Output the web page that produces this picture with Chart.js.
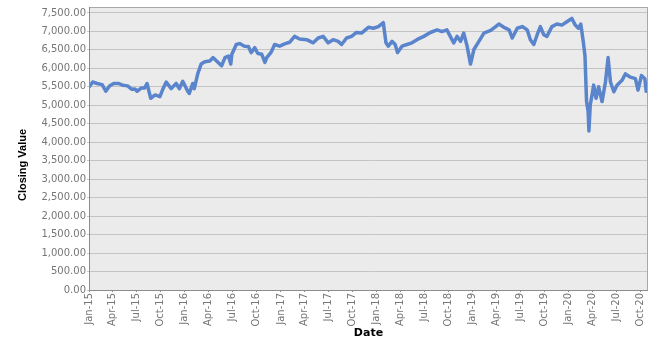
<!DOCTYPE html>
<html>
<head>
<meta charset="utf-8">
<script src="https://cdn.jsdelivr.net/npm/chart.js@4/dist/chart.umd.min.js"></script>
<style>
  html, body { margin: 0; padding: 0; background: #fff; }
  canvas { display: block; }
</style>
</head>
<body>
<canvas id="closeChart" width="665" height="352"></canvas>
<script>
const dates = [
  '2015-01-02', '2015-01-15', '2015-02-01', '2015-02-20', '2015-03-06', '2015-03-20', '2015-04-05', '2015-04-25',
  '2015-05-10', '2015-05-28', '2015-06-12', '2015-06-25', '2015-07-03', '2015-07-20', '2015-08-01', '2015-08-10',
  '2015-08-24', '2015-09-10', '2015-09-28', '2015-10-10', '2015-10-22', '2015-11-10', '2015-11-29', '2015-12-11',
  '2015-12-24', '2016-01-12', '2016-01-18', '2016-01-31', '2016-02-06', '2016-02-19', '2016-03-03', '2016-03-17',
  '2016-04-05', '2016-04-17', '2016-05-01', '2016-05-20', '2016-06-02', '2016-06-15', '2016-06-24', '2016-06-28',
  '2016-07-15', '2016-07-28', '2016-08-15', '2016-08-30', '2016-09-10', '2016-09-23', '2016-10-05', '2016-10-20',
  '2016-11-01', '2016-11-08', '2016-11-25', '2016-12-08', '2016-12-27', '2017-01-15', '2017-02-03', '2017-02-22',
  '2017-03-13', '2017-04-09', '2017-05-04', '2017-05-23', '2017-06-11', '2017-06-30', '2017-07-19', '2017-08-07',
  '2017-08-20', '2017-09-08', '2017-09-27', '2017-10-16', '2017-11-04', '2017-11-30', '2017-12-19', '2018-01-07',
  '2018-01-26', '2018-02-05', '2018-02-14', '2018-02-28', '2018-03-12', '2018-03-21', '2018-04-07', '2018-04-26',
  '2018-05-15', '2018-06-03', '2018-06-29', '2018-07-24', '2018-08-19', '2018-09-06', '2018-09-25', '2018-10-08',
  '2018-10-21', '2018-11-03', '2018-11-16', '2018-11-28', '2018-12-11', '2018-12-24', '2019-01-06', '2019-01-25',
  '2019-02-13', '2019-03-11', '2019-03-30', '2019-04-11', '2019-04-30', '2019-05-20', '2019-06-01', '2019-06-20',
  '2019-07-09', '2019-07-28', '2019-08-09', '2019-08-22', '2019-09-04', '2019-09-16', '2019-09-29', '2019-10-11',
  '2019-10-30', '2019-11-18', '2019-12-07', '2019-12-26', '2020-01-14', '2020-01-27', '2020-02-08', '2020-02-17',
  '2020-02-27', '2020-03-04', '2020-03-10', '2020-03-16', '2020-03-19', '2020-03-24', '2020-03-31', '2020-04-06',
  '2020-04-15', '2020-04-25', '2020-05-08', '2020-05-21', '2020-05-31', '2020-06-09', '2020-06-22', '2020-07-04',
  '2020-07-23', '2020-08-05', '2020-08-24', '2020-09-12', '2020-09-22', '2020-10-05', '2020-10-18', '2020-10-23'
];

const closes = [
  5500, 5630, 5590, 5560, 5380, 5520, 5590, 5590,
  5540, 5525, 5435, 5440, 5380, 5470, 5470, 5590,
  5190, 5280, 5235, 5450, 5630, 5450, 5590, 5450,
  5650, 5380, 5320, 5590, 5450, 5850, 6115, 6180,
  6200, 6290, 6200, 6070, 6290, 6335, 6115, 6380,
  6645, 6670, 6600, 6590, 6425, 6560, 6400, 6380,
  6160, 6290, 6440, 6645, 6600, 6660, 6705, 6865,
  6795, 6775, 6690, 6820, 6865, 6690, 6775, 6730,
  6645, 6820, 6865, 6970, 6955, 7110, 7085, 7130,
  7235, 6690, 6600, 6730, 6645, 6425, 6600, 6645,
  6690, 6775, 6865, 6970, 7040, 6995, 7040, 6865,
  6690, 6865, 6730, 6955, 6600, 6115, 6510, 6730,
  6955, 7025, 7130, 7200, 7110, 7040, 6820, 7085,
  7130, 7040, 6775, 6645, 6910, 7130, 6910, 6865,
  7130, 7200, 7170, 7260, 7350, 7170, 7085, 7200,
  6690, 6335, 5100, 4835, 4305, 5010, 5280, 5545,
  5190, 5500, 5100, 5630, 6290, 5630, 5365, 5545,
  5675, 5850, 5760, 5720, 5410, 5805, 5720, 5380
];

const tickDates = [
  '2015-01-01', '2015-04-01', '2015-07-01', '2015-10-01', '2016-01-01', '2016-04-01', '2016-07-01', '2016-10-01',
  '2017-01-01', '2017-04-01', '2017-07-01', '2017-10-01', '2018-01-01', '2018-04-01', '2018-07-01', '2018-10-01',
  '2019-01-01', '2019-04-01', '2019-07-01', '2019-10-01', '2020-01-01', '2020-04-01', '2020-07-01', '2020-10-01'
];
const tickLabels = [
  'Jan-15', 'Apr-15', 'Jul-15', 'Oct-15', 'Jan-16', 'Apr-16', 'Jul-16', 'Oct-16',
  'Jan-17', 'Apr-17', 'Jul-17', 'Oct-17', 'Jan-18', 'Apr-18', 'Jul-18', 'Oct-18',
  'Jan-19', 'Apr-19', 'Jul-19', 'Oct-19', 'Jan-20', 'Apr-20', 'Jul-20', 'Oct-20'
];
const yTicks = [0, 500, 1000, 1500, 2000, 2500, 3000, 3500, 4000, 4500, 5000, 5500, 6000, 6500, 7000, 7500];

const DAY = 86400000;
const origin = Date.UTC(2015, 0, 1);
function dayOf(iso) {
  const p = iso.split('-').map(Number);
  return (Date.UTC(p[0], p[1] - 1, p[2]) - origin) / DAY;
}

const points = dates.map((d, i) => ({ x: dayOf(d), y: closes[i] }));
const tickDays = tickDates.map(dayOf);

const plotFrame = {
  id: 'plotFrame',
  beforeDraw(chart) {
    const { ctx, chartArea: a } = chart;
    ctx.save();
    ctx.fillStyle = '#ebebeb';
    ctx.fillRect(a.left, a.top, a.right - a.left, a.bottom - a.top);
    ctx.restore();
  },
  afterDraw(chart) {
    const { ctx, chartArea: a } = chart;
    ctx.save();
    ctx.strokeStyle = '#a8a8a8';
    ctx.lineWidth = 1;
    ctx.strokeRect(a.left + 0.5, a.top + 0.5, a.right - a.left - 1, a.bottom - a.top);
    ctx.strokeStyle = '#8c8c8c';
    ctx.beginPath();
    ctx.moveTo(a.left + 0.5, a.top);
    ctx.lineTo(a.left + 0.5, a.bottom + 0.5);
    ctx.lineTo(a.right, a.bottom + 0.5);
    ctx.stroke();
    // y axis title, placed where the original sits
    ctx.translate(22.5, 165);
    ctx.rotate(-Math.PI / 2);
    ctx.fillStyle = '#000';
    ctx.font = 'bold 11px "Liberation Sans", Arial, sans-serif';
    ctx.textAlign = 'center';
    ctx.textBaseline = 'middle';
    ctx.fillText('Closing Value', 0, 0);
    ctx.restore();
  },
};

new Chart(document.getElementById('closeChart'), {
  type: 'line',
  data: {
    datasets: [{
      label: 'Closing Value',
      data: points,
      borderColor: '#5a84cc',
      borderWidth: 3.5,
      pointRadius: 0,
      tension: 0,
      borderJoinStyle: 'round',
      borderCapStyle: 'round',
    }],
  },
  options: {
    responsive: false,
    animation: false,
    layout: { padding: { left: 0, right: 17, top: 3, bottom: 0 } },
    plugins: { legend: { display: false }, tooltip: { enabled: false } },
    scales: {
      x: {
        type: 'linear',
        min: 0,
        max: 2129,
        afterFit(scale) { scale.height = 62; },
        afterBuildTicks(scale) { scale.ticks = tickDays.map(v => ({ value: v })); },
        grid: { drawOnChartArea: false, drawTicks: true, tickLength: 2, color: '#8c8c8c' },
        border: { display: false },
        ticks: {
          autoSkip: false,
          minRotation: 90,
          maxRotation: 90,
          padding: 1,
          color: '#767676',
          font: { family: 'DejaVu Sans', size: 10 },
          callback(value) {
            const i = tickDays.indexOf(value);
            return i >= 0 ? tickLabels[i] : '';
          },
        },
        title: {
          display: true,
          text: 'Date',
          color: '#000',
          font: { family: 'DejaVu Sans', size: 11, weight: 'bold' },
          padding: { top: 0, bottom: 12 },
        },
      },
      y: {
        min: 0,
        max: 7660,
        afterFit(scale) { scale.width = 89; },
        afterBuildTicks(scale) { scale.ticks = yTicks.map(v => ({ value: v })); },
        grid: { color: '#c4c4c4', lineWidth: 1, drawTicks: true, tickLength: 2 },
        border: { display: false },
        ticks: {
          padding: 1,
          color: '#767676',
          font: { family: 'DejaVu Sans', size: 10 },
          callback(value) {
            return value.toLocaleString('en-US', { minimumFractionDigits: 2, maximumFractionDigits: 2 });
          },
        },
        title: { display: false },
      },
    },
  },
  plugins: [plotFrame],
});
</script>
</body>
</html>
